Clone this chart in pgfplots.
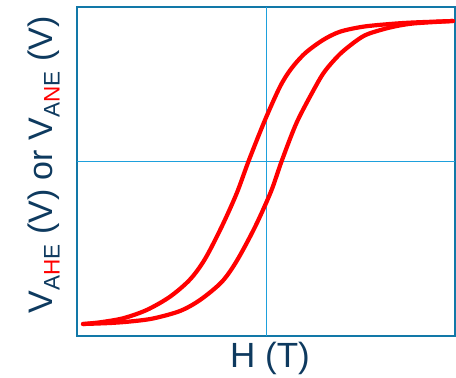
\documentclass[border=0pt]{standalone}
\usepackage{pgfplots}
\pgfplotsset{compat=1.18}
\usepackage{fontspec}
\setmainfont{Liberation Sans}
\definecolor{frameblue}{RGB}{18,120,168}
\definecolor{lineblue}{RGB}{30,160,220}
\definecolor{navy}{RGB}{14,58,95}
\newcommand{\sub}[1]{\raisebox{-7pt}{\fontsize{22.5}{22.5}\selectfont #1}}
\begin{document}
\begin{tikzpicture}
\begin{axis}[
  width=378pt, height=329pt, scale only axis,
  xmin=77, xmax=455, ymin=7, ymax=336, y dir=reverse,
  xtick=\empty, ytick=\empty,
  axis line style={frameblue, line width=2pt},
  xlabel={H (T)},
  ylabel={V\sub{A\textcolor{red}{H}E} (V) or V\sub{A\textcolor{red}{N}E} (V)},
  xlabel style={font=\fontsize{35}{35}\selectfont, text=navy, inner sep=0pt,
    at={(axis description cs:0.5,-0.018)}, anchor=north, xshift=4pt},
  ylabel style={font=\fontsize{34}{34}\selectfont, text=navy, inner sep=0pt,
    at={(axis description cs:-0.045,0.52)}, anchor=south},
]
\addplot[lineblue, line width=0.8pt] coordinates {(266,7) (266,336)};
\addplot[lineblue, line width=0.8pt] coordinates {(77,161) (455,161)};
% descending branch
\addplot[red, line width=4.2pt, smooth, line cap=round] coordinates {
(453,21) (413,22.5) (390,24) (363,26.7) (340,31.7) (323,40) (305,53.3)
(291,69) (280,86.7) (265,120) (249,160) (236.7,193.3) (221.7,226.7)
(205,259) (190,279.5) (170,296.7) (146.7,310) (123,318.3) (100,322.3) (83,324)};
% ascending branch
\addplot[red, line width=4.2pt, smooth, line cap=round] coordinates {
(83,324) (110,323) (130,321.5) (153,318.5) (180,311) (200,300) (221.7,282)
(236.7,261) (255,227) (271,191.5) (281.7,161) (296.7,122.5) (315,87.5)
(325,71) (340,54) (356.7,40.5) (368,34) (390,27.5) (413,23.5) (453,21)};
\coordinate (BL) at (rel axis cs:0,0);
\coordinate (TR) at (rel axis cs:1,1);
\end{axis}
\path ([xshift=-77pt,yshift=-42pt]BL) rectangle ([xshift=1pt,yshift=7pt]TR);
\end{tikzpicture}
\end{document}
